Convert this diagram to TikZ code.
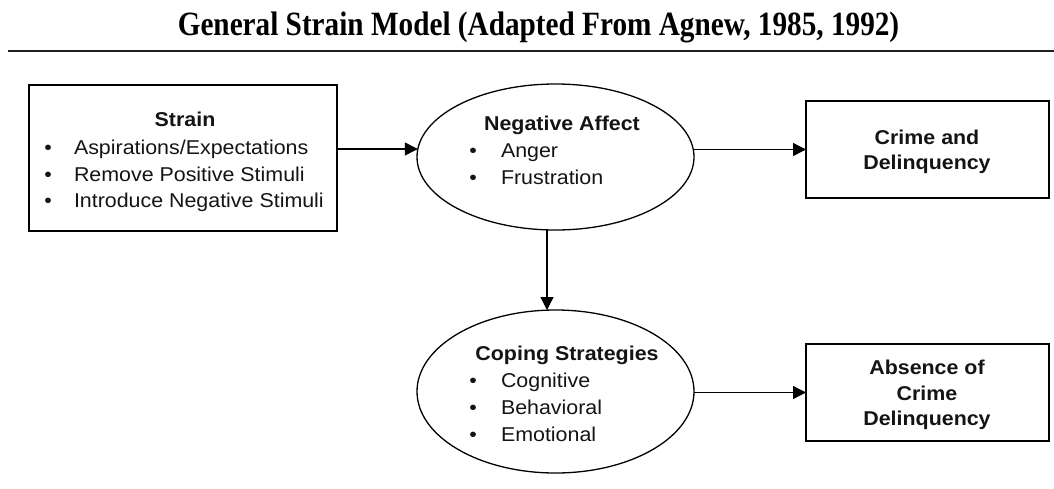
\documentclass[tikz,border=0pt]{standalone}
\usepackage{fontspec}
\usetikzlibrary{shapes.geometric,arrows.meta}
\newfontfamily\lsans[FakeStretch=1.07]{Liberation Sans}
\newfontfamily\tserif[FakeStretch=0.86]{Liberation Serif}
\tikzset{
  shapebox/.style={draw, line width=1.6pt, inner sep=0pt, outer sep=0pt, rectangle},
  shapeell/.style={draw, line width=1.3pt, inner sep=0pt, outer sep=0pt, ellipse},
  txt/.style={inner sep=0pt, outer sep=0pt, font=\lsans\fontsize{20}{27}\selectfont, text=black!92},
  head/.style={txt, anchor=base, font=\lsans\bfseries\fontsize{20}{27}\selectfont},
  item/.style={txt, anchor=base west},
  bul/.style={txt, anchor=base},
  arr/.style={line width=1.3pt, -{Triangle[length=13pt,width=13pt]}},
}
\begin{document}
\begin{tikzpicture}[x=1pt,y=-1pt]
\useasboundingbox (0,0) rectangle (1054,488);
% title and rule
\node[inner sep=0pt, anchor=base, font=\tserif\bfseries\fontsize{34}{40}\selectfont] (title) at (538.5,35) {General Strain Model (Adapted From Agnew, 1985, 1992)};
\coordinate (ruleL) at (8,51);
\coordinate (ruleR) at (1054,51);
\draw[line width=2.6pt, black!88] (ruleL) -- (ruleR);

% shapes
\node[shapebox, minimum width=308pt, minimum height=146pt] (strain) at (183,158) {};
\node[shapeell, minimum width=277pt, minimum height=146pt] (na) at (555.5,157) {};
\node[shapeell, minimum width=277pt, minimum height=163pt] (cs) at (555.5,391.5) {};
\node[shapebox, minimum width=243pt, minimum height=97pt] (cr) at (927.5,149.5) {};
\node[shapebox, minimum width=243pt, minimum height=97pt] (ab) at (927.5,392.5) {};

% strain text
\node[head] (sh) at (185,126) {Strain};
\node[bul] (sb1) at (48,154) {\textbullet};
\node[item] (si1) at (74,154) {Aspirations/Expectations};
\node[bul] (sb2) at (48,181) {\textbullet};
\node[item] (si2) at (74,181) {Remove Positive Stimuli};
\node[bul] (sb3) at (48,207.5) {\textbullet};
\node[item] (si3) at (74,207.5) {Introduce Negative Stimuli};

% negative affect text
\node[head] (nh) at (562,130) {Negative Affect};
\node[bul] (nb1) at (473,157) {\textbullet};
\node[item] (ni1) at (501,157) {Anger};
\node[bul] (nb2) at (473,184) {\textbullet};
\node[item] (ni2) at (501,184) {Frustration};

% coping text
\node[head] (ch) at (567,360) {Coping Strategies};
\node[bul] (cb1) at (473,387) {\textbullet};
\node[item] (ci1) at (501,387) {Cognitive};
\node[bul] (cb2) at (473,414) {\textbullet};
\node[item] (ci2) at (501,414) {Behavioral};
\node[bul] (cb3) at (473,441) {\textbullet};
\node[item] (ci3) at (501,441) {Emotional};

% outcome text
\node[head] (crt1) at (927,144) {Crime and};
\node[head] (crt2) at (927,169.5) {Delinquency};
\node[head] (abt1) at (927,374) {Absence of};
\node[head] (abt2) at (927,400) {Crime};
\node[head] (abt3) at (927,425.5) {Delinquency};

% connectors
\draw[arr] (strain.east |- 0,149) -- ([xshift=0.8pt]na.west |- 0,149);
\draw[arr] (na.east |- cr.west) -- (cr.west);
\draw[arr] ([xshift=-8.5pt]na.south) -- ([xshift=-8.5pt]cs.north);
\draw[arr] (cs.east |- ab.west) -- (ab.west);
\end{tikzpicture}
\end{document}
